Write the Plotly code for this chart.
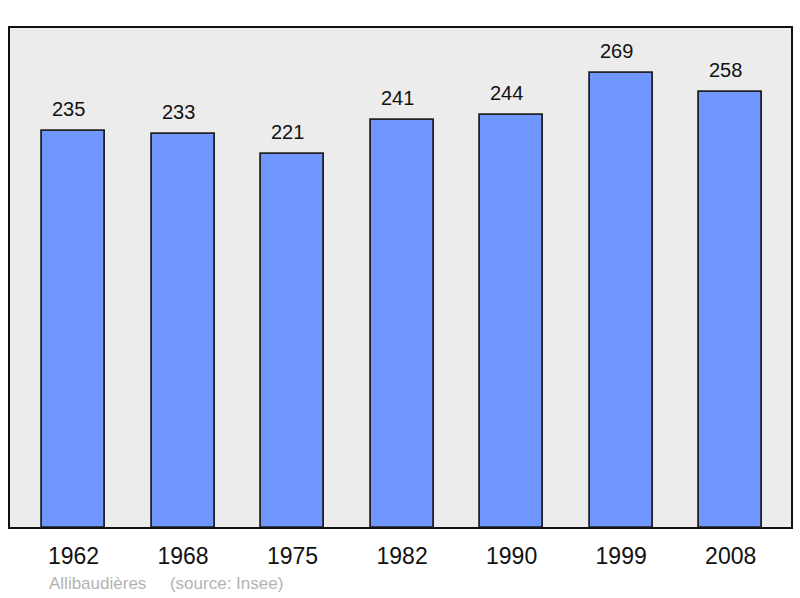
import plotly.graph_objects as go

years = ["1962", "1968", "1975", "1982", "1990", "1999", "2008"]
population = [235, 233, 221, 241, 244, 269, 258]
commune = "Allibaudières"
source_note = "(source: Insee)"

fig = go.Figure()
fig.add_trace(go.Bar(
    x=years, y=population, width=0.575,
    marker=dict(color="#7096ff", line=dict(color="#222222", width=1.8)),
    hoverinfo="x+y",
))

# value labels above bars (category index for x)
for i, val in enumerate(population):
    fig.add_annotation(x=i, y=val, xref="x", yref="y", text=str(val),
                       showarrow=False, yshift=22, xshift=-5,
                       font=dict(size=20, color="#111111"))

fig.add_annotation(xref="paper", yref="paper", x=0.049, y=-0.11,
                   xanchor="left", yanchor="middle", showarrow=False,
                   text=commune + "     " + source_note,
                   font=dict(size=17, color="#b3b3b3"))

# frame round the plot area
fig.add_shape(type="rect", xref="paper", yref="paper", x0=0, x1=1, y0=0, y1=1,
              line=dict(color="#111111", width=2), layer="above")

fig.update_xaxes(type="category", range=[-0.589, 6.56], showgrid=False,
                 zeroline=False, ticks="", ticklabelstandoff=12,
                 tickfont=dict(size=23, color="#111111"))
fig.update_yaxes(range=[0, 296.2], showgrid=False, zeroline=False,
                 showticklabels=False)
fig.update_layout(width=800, height=598,
                  margin=dict(l=9, r=8, t=27, b=70),
                  plot_bgcolor="#ececec", paper_bgcolor="white",
                  font=dict(family="Liberation Sans, Arial, sans-serif"),
                  showlegend=False, bargap=0)

fig.write_html("out.html", config={"displayModeBar": False},
               post_script="document.body.style.margin='0';")
